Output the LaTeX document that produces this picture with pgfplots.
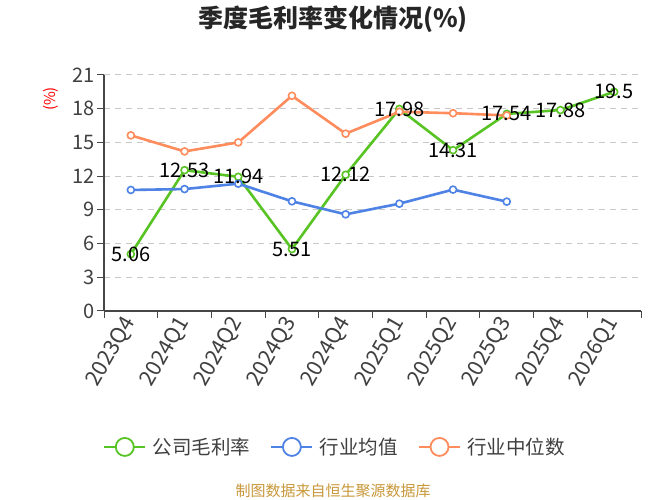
\documentclass[border=0pt]{standalone}
\usepackage{fontspec}
\setmainfont{Noto Sans CJK SC}
\usepackage{pgfplots}
\pgfplotsset{compat=1.18}
\definecolor{cgreen}{RGB}{88,196,36}
\definecolor{cblue}{RGB}{78,130,228}
\definecolor{corange}{RGB}{255,140,92}
\definecolor{cgrid}{RGB}{200,200,200}
\definecolor{caxis}{RGB}{70,70,70}
\definecolor{csrc}{RGB}{200,152,58}
\begin{document}
\begin{tikzpicture}[x=1pt,y=1pt]
\useasboundingbox[fill=white] (0,0) rectangle (667,500);
\node[font=\fontsize{25}{28}\selectfont\bfseries, text=black!85] at (333,481) {季度毛利率变化情况(\%)};
\node[rotate=90, text=red, font=\fontsize{15}{17}\selectfont] at (51,401) {(\%)};
\node[text=csrc, font=\fontsize{15}{17}\selectfont] at (333,9) {制图数据来自恒生聚源数据库};
\begin{axis}[
  at={(104pt,189pt)}, anchor=south west,
  scale only axis, width=537pt, height=236pt,
  xmin=-0.5, xmax=9.5, ymin=0, ymax=21,
  ytick={0,3,...,21},
  xtick={-0.5,0.5,...,9.5},
  x tick label as interval,
  xticklabels={2023Q4,2024Q1,2024Q2,2024Q3,2024Q4,2025Q1,2025Q2,2025Q3,2025Q4,2026Q1},
  major tick length=7pt,
  tick style={draw=caxis, line width=1pt},
  tick align=outside,
  axis x line*=bottom, axis y line*=left,
  axis line style={draw=caxis, line width=1.2pt, -},
  ymajorgrids, grid style={cgrid, line width=1pt, dash pattern=on 6pt off 5pt},
  /pgf/number format/assume math mode=true,
  ticklabel style={font=\fontsize{20}{22}\selectfont, text=black!75},
  xticklabel style={rotate=60, anchor=east, inner sep=1pt, font=\fontsize{21.5}{23}\selectfont},
  yticklabel style={inner sep=2pt},
  every axis plot/.append style={line width=2.6pt},
  mark size=3.5pt,
  legend columns=3,
  legend style={at={(0.43,-0.576)}, anchor=center, draw=none, fill=none,
    font=\fontsize{19.5}{22}\selectfont, text=black!75,
    /tikz/every odd column/.append style={column sep=4pt},
    /tikz/every even column/.append style={column sep=18pt}},
  legend image code/.code={
    \draw[#1, mark=none] (0pt,0pt) -- (41pt,0pt);
    \draw[#1, mark=none, fill=white, line width=1.8pt] (20.5pt,0pt) circle (9pt);
  },
  clip=false,
]
\addplot[cgreen, mark=*, mark options={fill=white, line width=1.6pt}] coordinates {
(0,5.06) (1,12.53) (2,11.94) (3,5.51) (4,12.12) (5,17.98) (6,14.31) (7,17.54) (8,17.88) (9,19.5)};
\addlegendentry{公司毛利率}
\addplot[cblue, mark=*, mark options={fill=white, line width=1.6pt}] coordinates {
(0,10.77) (1,10.85) (2,11.33) (3,9.76) (4,8.6) (5,9.55) (6,10.8) (7,9.73)};
\addlegendentry{行业均值}
\addplot[corange, mark=*, mark options={fill=white, line width=1.6pt}] coordinates {
(0,15.63) (1,14.2) (2,15.0) (3,19.15) (4,15.78) (5,17.73) (6,17.6) (7,17.4)};
\addlegendentry{行业中位数}
\addplot[draw=none, mark=none, forget plot,
  nodes near coords, point meta=explicit symbolic,
  nodes near coords style={anchor=center, font=\fontsize{20}{22}\selectfont, text=black}]
  coordinates {
(0,5.06) [5.06] (1,12.53) [12.53] (2,11.94) [11.94] (3,5.51) [5.51] (4,12.12) [12.12]
(5,17.98) [17.98] (6,14.31) [14.31] (7,17.54) [17.54] (8,17.88) [17.88] (9,19.5) [19.5]};
\end{axis}
\end{tikzpicture}
\end{document}
